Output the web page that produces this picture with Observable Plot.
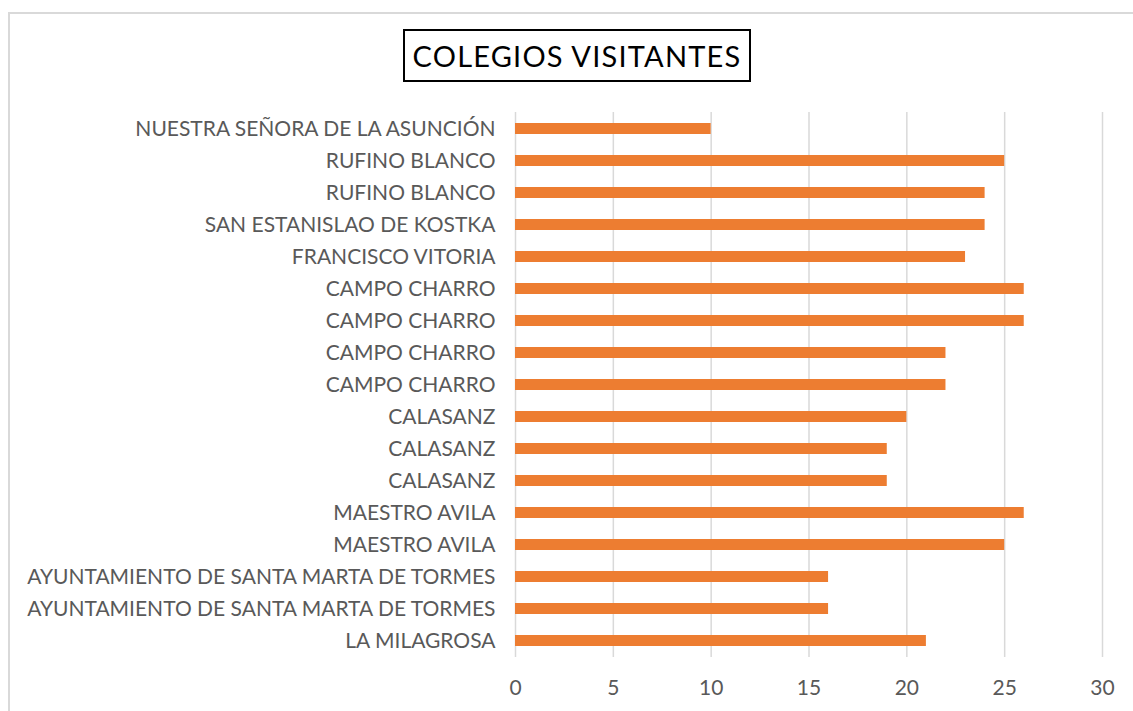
<!DOCTYPE html>
<html>
<head>
<meta charset="utf-8">
<script src="https://cdn.jsdelivr.net/npm/d3@7"></script>
<script src="https://cdn.jsdelivr.net/npm/@observablehq/plot@0.6"></script>
<style>
  html, body { margin: 0; padding: 0; background: #fff; width: 1133px; height: 711px; overflow: hidden; }
  #frame { position: absolute; left: 8px; top: 12px; width: 1200px; height: 800px; border: 2px solid #d9d9d9; box-sizing: border-box; }
  #title { position: absolute; left: 403px; top: 29px; width: 348px; height: 53px; border: 2px solid #000; box-sizing: border-box;
           font-family: Lato, "Noto Sans", sans-serif; font-size: 29px; letter-spacing: 1.2px; color: #000; display: flex; align-items: center; justify-content: center; }
  #chart { position: absolute; left: 0; top: 100px; }
</style>
</head>
<body>
<div id="frame"></div>
<div id="title">COLEGIOS VISITANTES</div>
<div id="chart"></div>
<script>
const schools = [
  "NUESTRA SEÑORA DE LA ASUNCIÓN",
  "RUFINO BLANCO",
  "RUFINO BLANCO",
  "SAN ESTANISLAO DE KOSTKA",
  "FRANCISCO VITORIA",
  "CAMPO CHARRO",
  "CAMPO CHARRO",
  "CAMPO CHARRO",
  "CAMPO CHARRO",
  "CALASANZ",
  "CALASANZ",
  "CALASANZ",
  "MAESTRO AVILA",
  "MAESTRO AVILA",
  "AYUNTAMIENTO DE SANTA MARTA DE TORMES",
  "AYUNTAMIENTO DE SANTA MARTA DE TORMES",
  "LA MILAGROSA"
];
const visitors = [10, 25, 24, 24, 23, 26, 26, 22, 22, 20, 19, 19, 26, 25, 16, 16, 21];
const xTicks = [0, 5, 10, 15, 20, 25, 30];

const rows = schools.map((s, i) => ({idx: i, school: s, value: visitors[i]}));

const plot = Plot.plot({
  width: 1133,
  height: 611,
  marginLeft: 515,
  marginRight: 31,
  marginTop: 12,
  marginBottom: 54,
  style: {fontFamily: 'Lato, "Noto Sans", sans-serif', fontSize: "21px", color: "#595959", background: "transparent"},
  x: {domain: [0, 30], ticks: xTicks, label: null, tickSize: 0, tickPadding: 23},
  y: {domain: rows.map(d => d.idx), label: null, tickSize: 0, tickPadding: 20,
      paddingInner: 0.66, paddingOuter: 0.33, tickFormat: i => schools[i]},
  marks: [
    Plot.gridX(xTicks, {stroke: "#d9d9d9", strokeOpacity: 1, strokeWidth: 1.5}),
    Plot.barX(rows, {x: "value", y: "idx", fill: "#ED7D31"})
  ]
});
document.getElementById("chart").appendChild(plot);
</script>
</body>
</html>
